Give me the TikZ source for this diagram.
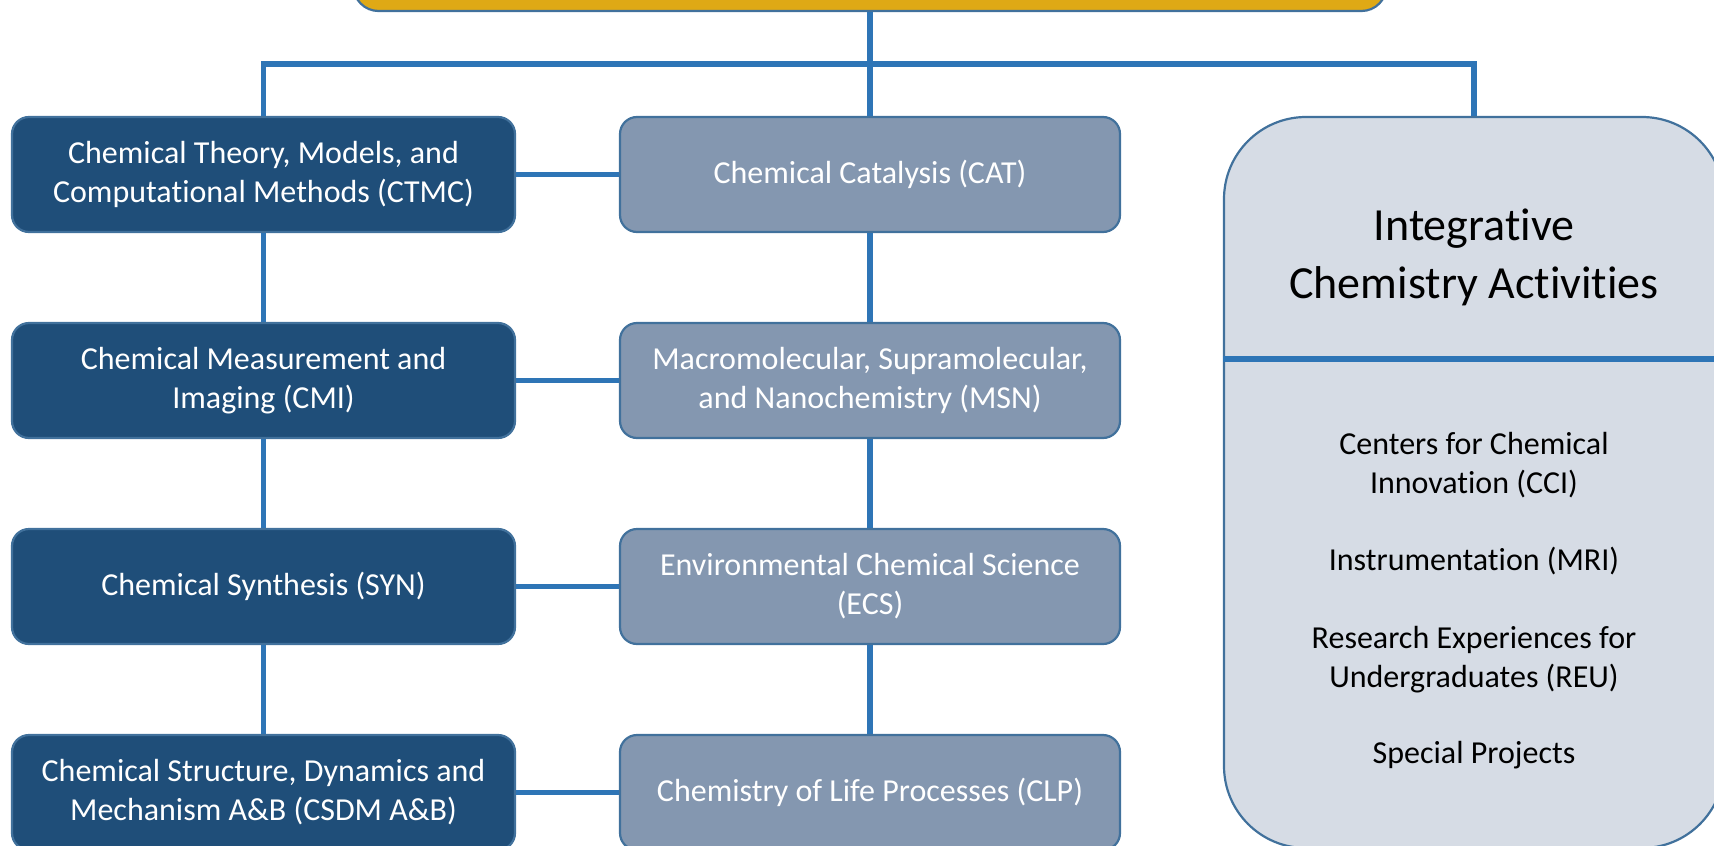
\documentclass[tikz,border=0pt]{standalone}
\usepackage{fontspec}
\setmainfont{Carlito}[Ligatures={NoCommon}]
\newcommand{\nlti}{t\kern0pt i}
\definecolor{lineblue}{HTML}{2E75B6}
\definecolor{edge}{HTML}{41719C}
\definecolor{darkfill}{HTML}{1F4E79}
\definecolor{midfill}{HTML}{8497B0}
\definecolor{lightfill}{HTML}{D6DCE5}
\definecolor{goldfill}{HTML}{DFA915}
\begin{document}
\begin{tikzpicture}[x=0.5pt,y=-0.5pt,
  conn/.style={draw=lineblue, line width=2.8pt},
  boxbase/.style={draw=edge, line width=1.1pt, rounded corners=8.5pt,
    minimum height=57.5pt, inner sep=0pt, align=center,
    font=\fontsize{16}{19.5}\selectfont},
  dbox/.style={boxbase, fill=darkfill, text=white, minimum width=251.5pt},
  mbox/.style={boxbase, fill=midfill, text=white, minimum width=250pt},
  bigbox/.style={draw=edge, line width=1.1pt, fill=lightfill, rounded corners=41pt,
    minimum width=250pt, minimum height=365.5pt, inner sep=0pt},
  goldbox/.style={draw=edge, line width=1.1pt, fill=goldfill, rounded corners=12.5pt,
    minimum width=516.5pt, minimum height=55.5pt, inner sep=0pt},
  item/.style={align=center, text=black, font=\fontsize{16}{19.4}\selectfont, inner sep=0pt},
  title/.style={align=center, text=black, font=\fontsize{23}{29.2}\selectfont, inner sep=0pt}
]
\useasboundingbox (0,0) rectangle (1714,846);
\clip (0,0) rectangle (1714,846);

% top box (cut off)
\node[goldbox] (gold) at (870,-44.5) {};

% left column
\node[dbox] (ctmc) at (263.5,174.5) {Chemical Theory, Models, and\\Computa\nlti onal Methods (CTMC)};
\node[dbox] (cmi)  at (263.5,380.5) {Chemical Measurement and\\Imaging (CMI)};
\node[dbox] (syn)  at (263.5,586.5) {Chemical Synthesis (SYN)};
\node[dbox] (csdm) at (263.5,792.5) {Chemical Structure, Dynamics and\\Mechanism A\&B (CSDM A\&B)};

% middle column
\node[mbox] (cat) at (870,174.5) {Chemical Catalysis (CAT)};
\node[mbox] (msn) at (870,380.5) {Macromolecular, Supramolecular,\\and Nanochemistry (MSN)};
\node[mbox] (ecs) at (870,586.5) {Environmental Chemical Science\\(ECS)};
\node[mbox] (clp) at (870,792.5) {Chemistry of Life Processes (CLP)};

% right box
\node[bigbox] (ica) at (1474,482.5) {};
\coordinate (dvy) at (0,359);
\draw[conn] (ica.west |- dvy) -- (ica.east |- dvy);

\node[title] (ttl) at (1474,257.4) {Integra\nlti ve\\Chemistry Ac\nlti vi\nlti es};
\node[item] (cci) at (1474,465.3) {Centers for Chemical\\Innova\nlti on (CCI)};
\node[item, anchor=base] (mri) at (1474,570.4) {Instrumenta\nlti on (MRI)};
\node[item] (reu) at (1474,659.4) {Research Experiences for\\Undergraduates (REU)};
\node[item, anchor=base] (spp) at (1474,763) {Special Projects};

% connectors
\coordinate (bus) at (870,64);
\draw[conn] (gold.south) -- (cat.north);
\draw[conn] (ctmc.north) |- (bus) -| (ica.north);

\draw[conn] (ctmc.south) -- (cmi.north);
\draw[conn] (cmi.south) -- (syn.north);
\draw[conn] (syn.south) -- (csdm.north);

\draw[conn] (cat.south) -- (msn.north);
\draw[conn] (msn.south) -- (ecs.north);
\draw[conn] (ecs.south) -- (clp.north);

\draw[conn] (ctmc.east) -- (cat.west);
\draw[conn] (cmi.east) -- (msn.west);
\draw[conn] (syn.east) -- (ecs.west);
\draw[conn] (csdm.east) -- (clp.west);
\end{tikzpicture}
\end{document}
